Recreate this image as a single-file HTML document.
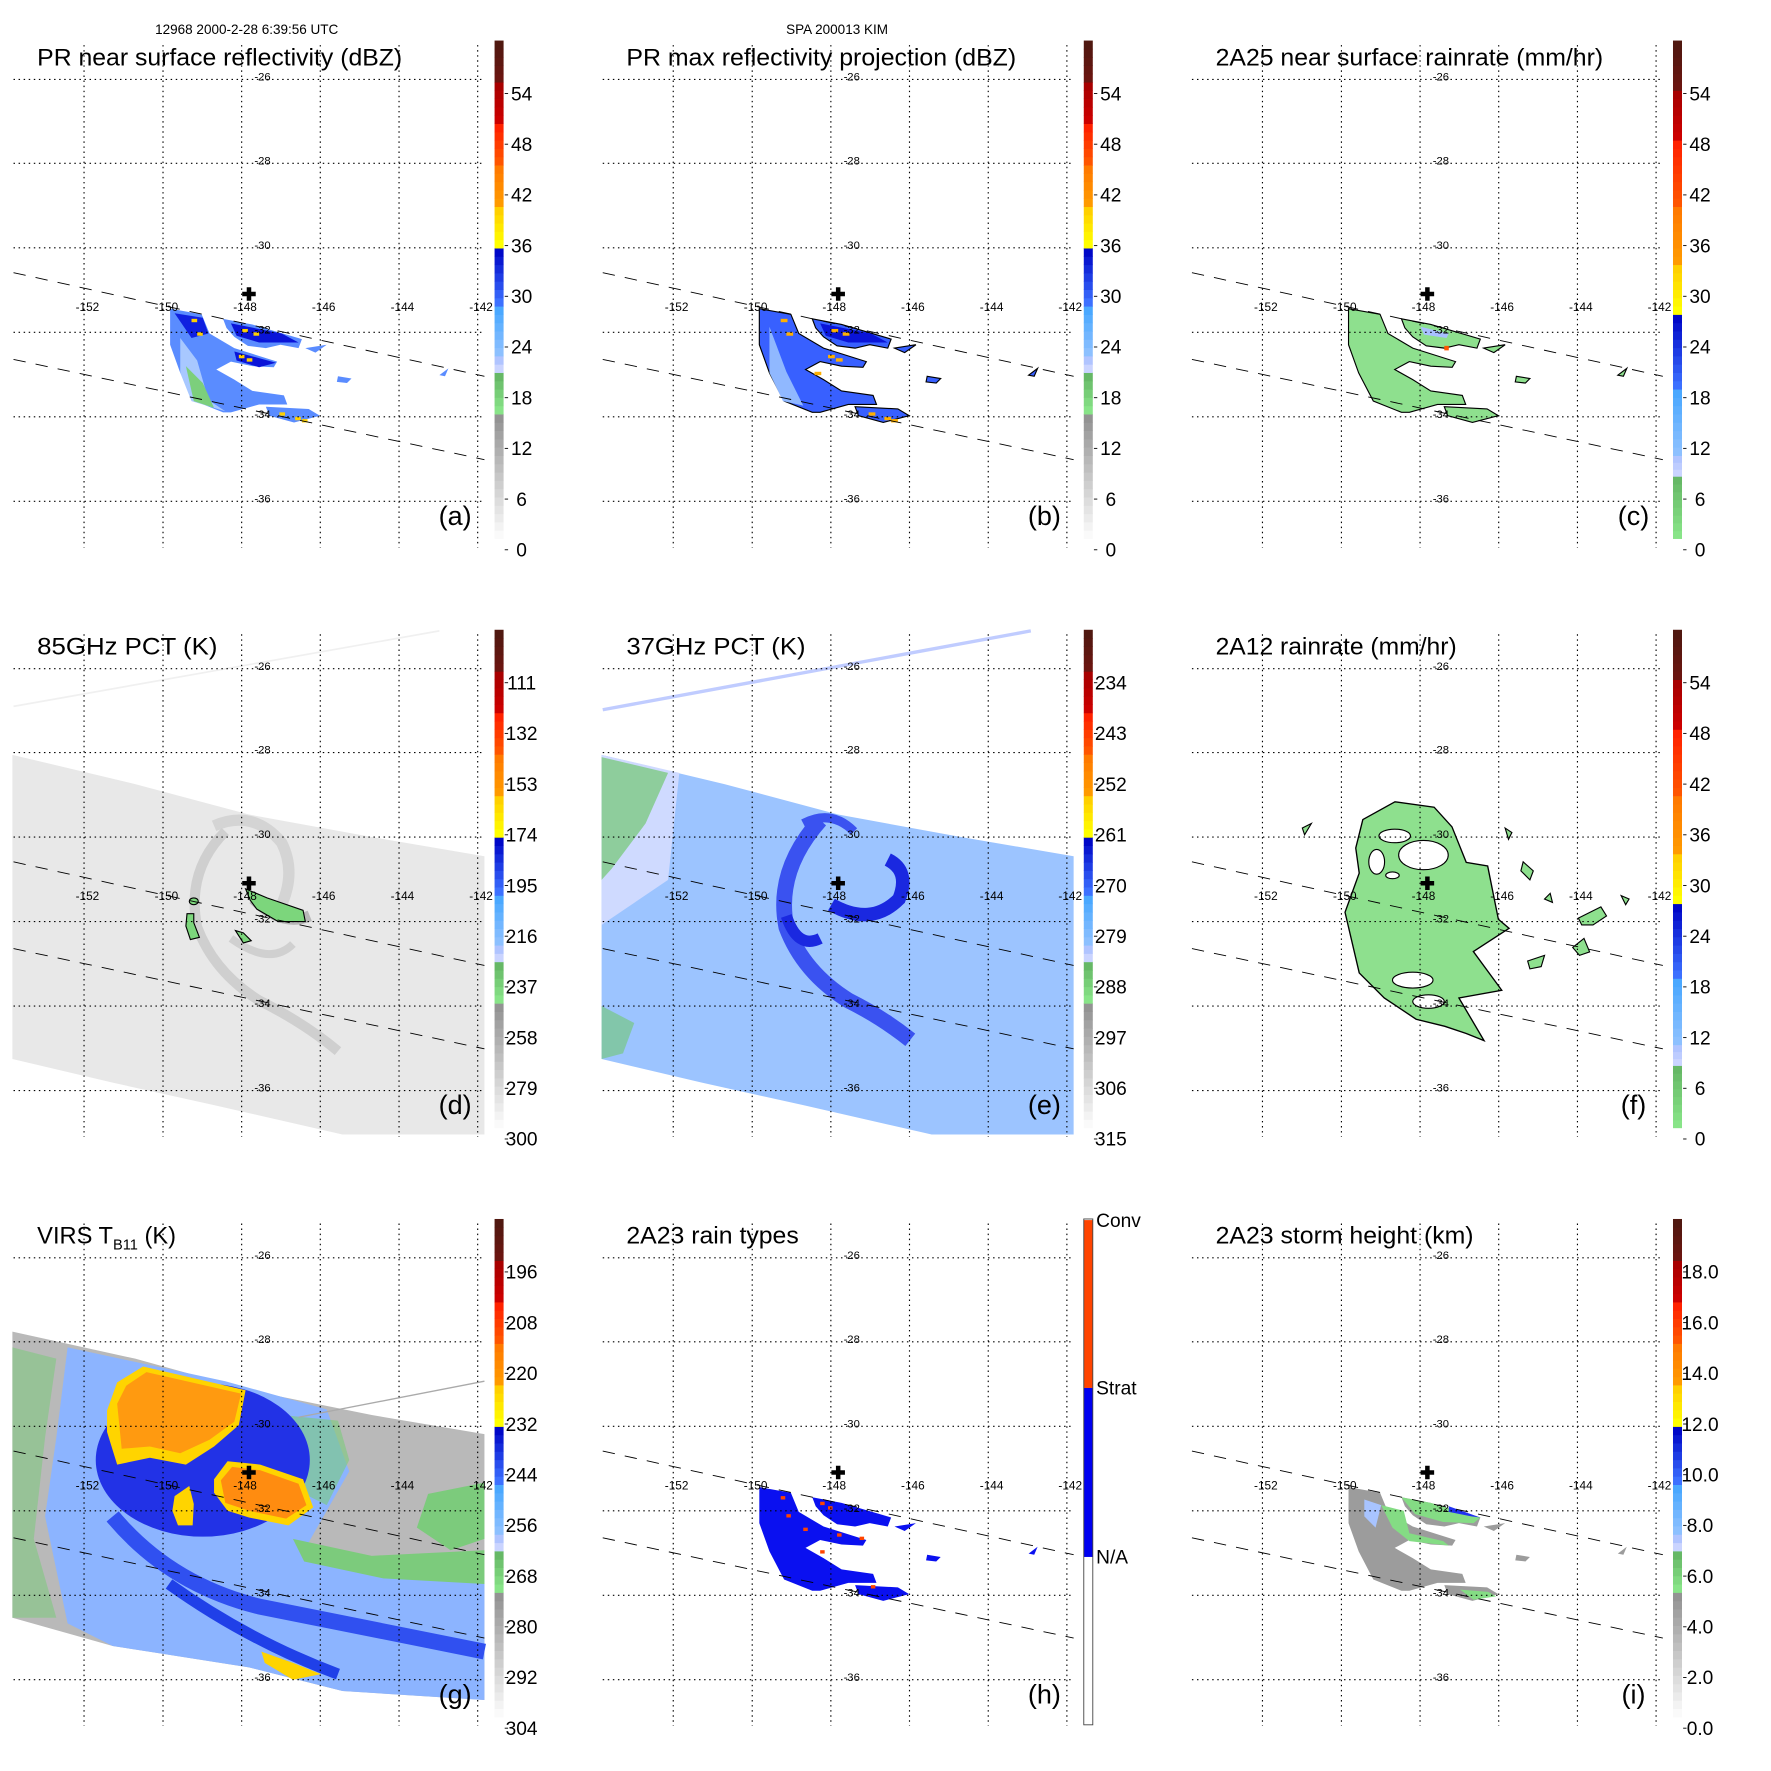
<!DOCTYPE html>
<html><head><meta charset="utf-8"><style>
html,body{margin:0;padding:0;background:#fff;}
svg{display:block;font-family:"Liberation Sans",Arial,sans-serif;}
</style></head><body>
<svg id="s" width="1771" height="1771" viewBox="0 0 1572 1572" xmlns="http://www.w3.org/2000/svg">
<rect width="1572" height="1572" fill="#fff"/>
<text x="219" y="30" font-size="12" text-anchor="middle">12968 2000-2-28 6:39:56 UTC</text>
<text x="743" y="30" font-size="12" text-anchor="middle">SPA 200013 KIM</text>
<g id="root"></g>
</svg>
<script>
const NS="http://www.w3.org/2000/svg";
const root=document.getElementById('root');
function el(tag,attrs,parent,txt){const e=document.createElementNS(NS,tag);for(const k in attrs)e.setAttribute(k,attrs[k]);if(txt!==undefined)e.textContent=txt;(parent||root).appendChild(e);return e;}
function P(pts){return pts.map(p=>p.join(',')).join(' ');}
function hex(c){return [parseInt(c.substr(1,2),16),parseInt(c.substr(3,2),16),parseInt(c.substr(5,2),16)];}
function mix(a,b,t){a=hex(a);b=hex(b);return 'rgb('+a.map((v,i)=>Math.round(v+(b[i]-v)*t)).join(',')+')';}

const SA=[[0,15,'#fafafa','#939393'],[15,20,'#88e488','#66b866'],[20,22,'#cad4ff','#b0c4ff'],[22,28,'#8cc0ff','#4aa8ff'],[28,35,'#3c70ff','#0008c8'],[35,40,'#ffff00','#ffd000'],[40,45,'#ff9a00','#ff7a00'],[45,50,'#ff5500','#ff2200'],[50,55,'#cc0000','#a80000'],[55,60,'#6a1510','#501810']];
const SC=[[0,7.5,'#88e488','#66b866'],[7.5,10,'#cad4ff','#b0c4ff'],[10,18,'#8cc0ff','#4aa8ff'],[18,27,'#3c70ff','#0008c8'],[27,33,'#ffff00','#ffd000'],[33,40,'#ff9a00','#ff7a00'],[40,48,'#ff5500','#ff2200'],[48,54,'#cc0000','#a80000'],[54,60,'#6a1510','#501810']];

function colorbar(g,segs){
  const top=36,bot=478,H=bot-top;
  segs.forEach(s=>{
    const n=Math.max(1,Math.round((s[1]-s[0])));
    for(let i=0;i<n;i++){
      const v0=s[0]+(s[1]-s[0])*i/n,v1=s[0]+(s[1]-s[0])*(i+1)/n;
      const y1=bot-v1/60*H,y0=bot-v0/60*H;
      el('rect',{x:439,y:y1,width:8,height:y0-y1+0.4,fill:mix(s[2],s[3],n>1?i/(n-1):0)},g);
    }
  });
}
function cblabels(g,labs){
  labs.forEach((t,i)=>{const y=83+i*45;el('text',{x:463,y:y+6,'font-size':17,'text-anchor':'middle'},g,t);
    el('line',{x1:448,x2:451,y1:y,y2:y,stroke:'#000','stroke-width':0.8},g);});
}
const GX=[74.6,144.7,214.5,284.3,354.2,424],GY=[70.5,145,220,295,370,445];
function grid(g){
  GX.forEach(x=>el('line',{x1:x,x2:x,y1:40,y2:486,stroke:'#000','stroke-width':1,'stroke-dasharray':'1.3,3.2'},g));
  GY.forEach(y=>el('line',{x1:12,x2:430,y1:y,y2:y,stroke:'#000','stroke-width':1,'stroke-dasharray':'1.3,3.2'},g));
  ['-26','-28','-30','-32','-34','-36'].forEach((t,i)=>el('text',{x:233,y:GY[i]+1,'font-size':10,'text-anchor':'middle'},g,t));
  ['-152','-150','-148','-146','-144','-142'].forEach((t,i)=>el('text',{x:GX[i]+3,y:276,'font-size':10.5,'text-anchor':'middle'},g,t));
  el('line',{x1:12,y1:242,x2:430,y2:334,stroke:'#000','stroke-width':0.8,'stroke-dasharray':'11,9'},g);
  el('line',{x1:12,y1:319,x2:430,y2:408,stroke:'#000','stroke-width':0.8,'stroke-dasharray':'11,9'},g);
  el('path',{d:'M221,255v12M215,261h12',stroke:'#000','stroke-width':4},g);
}
function title(g,t,x2){el('text',{x:33,y:58,'font-size':21,textLength:x2-33,lengthAdjust:'spacingAndGlyphs'},g,t);}
function letter(g,t){el('text',{x:404,y:466,'font-size':24,'text-anchor':'middle'},g,t);}

const LEFT=[[151,274],[179,279],[186,296],[208,309],[246,321],[243,326],[224,325],[205,321],[192,328],[208,337],[224,347],[252,351],[255,359],[230,359],[205,366],[198,366],[173,356],[160,331],[151,306]];
const B1=[[198,283],[224,288],[268,301],[265,309],[249,306],[236,309],[220,307],[208,299],[201,291]];
const B3=[[236,361],[274,363],[284,369],[261,375],[239,369]];
const SM=[[[271,309],[290,306],[280,313]],[[300,334],[312,336],[308,340],[299,339]],[[390,333],[398,327],[395,334]]];
function prShapes(g,fill,stroke){
  [LEFT,B1,B3].concat(SM).forEach(p=>el('polygon',{points:P(p),fill:fill,stroke:stroke||'none','stroke-width':1},g));
}

const panels=[
 {c:0,r:0,t:'PR near surface reflectivity (dBZ)',x2:357,L:'(a)',segs:SA,labs:['54','48','42','36','30','24','18','12','6','0']},
 {c:1,r:0,t:'PR max reflectivity projection (dBZ)',x2:379,L:'(b)',segs:SA,labs:['54','48','42','36','30','24','18','12','6','0']},
 {c:2,r:0,t:'2A25 near surface rainrate (mm/hr)',x2:377,L:'(c)',segs:SC,labs:['54','48','42','36','30','24','18','12','6','0']},
 {c:0,r:1,t:'85GHz PCT (K)',x2:193,L:'(d)',segs:SA,labs:['111','132','153','174','195','216','237','258','279','300']},
 {c:1,r:1,t:'37GHz PCT (K)',x2:192,L:'(e)',segs:SA,labs:['234','243','252','261','270','279','288','297','306','315']},
 {c:2,r:1,t:'2A12 rainrate (mm/hr)',x2:247,L:'(f)',segs:SC,labs:['54','48','42','36','30','24','18','12','6','0']},
 {c:0,r:2,t:'VIRS T',x2:0,L:'(g)',segs:SA,labs:['196','208','220','232','244','256','268','280','292','304']},
 {c:1,r:2,t:'2A23 rain types',x2:186,L:'(h)',segs:null},
 {c:2,r:2,t:'2A23 storm height (km)',x2:262,L:'(i)',segs:SA,labs:['18.0','16.0','14.0','12.0','10.0','8.0','6.0','4.0','2.0','0.0']},
];
const SW=[[11,147],[120,173],[221,200],[330,220],[430,237],[430,484],[304,484],[190,458],[100,438],[11,417]];
panels.forEach(p=>{
  const g=el('g',{transform:`translate(${p.c*523},${p.r*523})`});
  const dg=el('g',{},g);
  const id=p.L[1];
  if(id=='a'){
    prShapes(dg,'#5a8cff');
    el('polygon',{points:P([[160,300],[175,320],[185,355],[200,365],[170,356],[160,331]]),fill:'#a8c8ff'},dg);
    el('polygon',{points:P([[165,325],[180,340],[190,362],[172,356]]),fill:'#7ccf7c'},dg);
    el('polygon',{points:P([[155,278],[180,282],[185,296],[170,300]]),fill:'#1020e0'},dg);
    el('polygon',{points:P([[205,287],[250,296],[265,304],[230,304],[210,298]]),fill:'#0a14d8'},dg);
    el('polygon',{points:P([[208,312],[245,322],[230,326],[210,320]]),fill:'#0a14d8'},dg);
    [[215,292],[225,295],[170,283],[175,295],[212,315],[219,318],[262,370],[268,372],[248,366]].forEach(q=>el('rect',{x:q[0],y:q[1],width:5,height:3,fill:'#ffd000'},dg));
  }
  if(id=='b'){
    prShapes(dg,'#3860ff','#000');
    el('polygon',{points:P([[160,290],[175,330],[190,360],[172,356],[160,331]]),fill:'#90b8ff'},dg);
    el('polygon',{points:P([[205,287],[250,296],[265,304],[230,304],[210,298]]),fill:'#0a14d8'},dg);
    [[215,292],[225,295],[170,283],[175,295],[212,315],[219,318],[262,370],[268,372],[248,366],[200,330]].forEach(q=>el('rect',{x:q[0],y:q[1],width:6,height:3,fill:'#ffb000'},dg));
  }
  if(id=='c'){
    prShapes(dg,'#8ee08e','#000');
    el('polygon',{points:P([[215,290],[240,296],[238,300],[218,297]]),fill:'#a8c0ff'},dg);
    el('rect',{x:236,y:307,width:4,height:4,fill:'#ff5500'},dg);
  }
  if(id=='d'||id=='e'){
    if(id=='d'){el('line',{x1:12,y1:104,x2:390,y2:37,stroke:'#f0f0f0','stroke-width':1.5},dg);
      el('polygon',{points:P(SW),fill:'#e8e8e8'},dg);
      const sw='#cfcfcf';
      el('path',{d:'M190,210 Q225,195 250,225 Q265,255 245,290',fill:'none',stroke:'#d4d4d4','stroke-width':10},dg);
      el('path',{d:'M200,215 Q165,250 175,300 Q190,340 230,365 Q270,385 300,410',fill:'none',stroke:sw,'stroke-width':9},dg);
      el('path',{d:'M225,275 Q250,300 275,290',fill:'none',stroke:'#b8b8b8','stroke-width':10},dg);
      el('path',{d:'M205,310 Q240,335 260,315',fill:'none',stroke:'#d0d0d0','stroke-width':7},dg);
      el('polygon',{points:P([[218,266],[237,274],[269,285],[271,295],[247,295],[228,284],[222,276]]),fill:'#7cd67c',stroke:'#000','stroke-width':1},dg);
      el('polygon',{points:P([[166,288],[172,288],[172,296],[177,309],[169,311],[165,299]]),fill:'#7cd67c',stroke:'#000','stroke-width':1},dg);
      el('ellipse',{cx:172,cy:277,rx:4,ry:3,fill:'#7cd67c',stroke:'#000'},dg);
      el('polygon',{points:P([[209,303],[216,305],[223,312],[216,314]]),fill:'#7cd67c',stroke:'#000'},dg);
    } else {
      el('line',{x1:12,y1:107,x2:392,y2:37,stroke:'#c0ccff','stroke-width':3},dg);
      el('polygon',{points:P(SW),fill:'#9cc4ff'},dg);
      el('polygon',{points:P([[11,147],[80,163],[70,258],[11,298]]),fill:'#cfdaff'},dg);
      el('polygon',{points:P([[11,149],[70,163],[50,208],[20,248],[11,258]]),fill:'#72c872',opacity:0.7},dg);
      el('polygon',{points:P([[11,370],[40,385],[30,412],[11,417]]),fill:'#72c872',opacity:0.6},dg);
      el('path',{d:'M205,205 Q165,250 175,300 Q190,340 230,365 Q260,380 285,400',fill:'none',stroke:'#3a52f0','stroke-width':14},dg);
      el('path',{d:'M215,280 Q250,300 275,275 Q285,250 265,240',fill:'none',stroke:'#1a28e0','stroke-width':12},dg);
      el('path',{d:'M175,290 Q185,320 205,310',fill:'none',stroke:'#1a28e0','stroke-width':10},dg);
      el('path',{d:'M190,208 Q215,195 235,215',fill:'none',stroke:'#3a52f0','stroke-width':8},dg);
    }
  }
  if(id=='f'){
    el('polygon',{points:P([[163.7,204.5],[192.2,188.7],[227,193.5],[242.8,210.9],[255.5,242.5],[274.5,245.7],[284,293],[293.5,301],[261.8,321.6],[287,356],[249,362.8],[271.3,400.7],[255.5,394.4],[236.5,388],[211,381.7],[182.7,362.8],[160.5,340.6],[147.9,286.8],[160.5,252],[157.4,229.8]]),fill:'#8ee08e',stroke:'#000','stroke-width':1.2},dg);
    [[217.5,236,22,13],[192,219,14,6],[176,242,7,11],[208,347,18,7],[222,366,14,6],[190,254,6,3]].forEach(e=>el('ellipse',{cx:e[0],cy:e[1],rx:e[2],ry:e[3],fill:'#fff',stroke:'#000'},dg));
    [[[355,292],[375,282],[380,290],[368,298],[358,298]],[[310,330],[325,325],[322,335],[312,337]],[[350,318],[360,310],[365,322],[356,325]],[[393,272],[400,275],[397,280]],[[290,212],[296,216],[293,222]],[[306,242],[315,250],[312,258],[304,250]],[[325,275],[330,270],[332,278]],[[110,212],[118,208],[112,218]]].forEach(q=>el('polygon',{points:P(q),fill:'#8ee08e',stroke:'#000'},dg));
  }
  if(id=='g'){
    const gs=[[11,136],[120,160],[221,188],[330,210],[430,227],[430,463],[304,455],[221,434],[100,415],[11,390]];
    el('polygon',{points:P(gs),fill:'#b9b9b9'},dg);
    el('polygon',{points:P([[60,150],[200,180],[290,205],[310,260],[270,330],[340,350],[430,355],[430,463],[304,455],[221,434],[100,415],[60,395],[40,300],[50,230]]),fill:'#8cb4ff'},dg);
    el('polygon',{points:P([[11,150],[50,160],[40,230],[30,320],[50,390],[11,390]]),fill:'#7ccb7c',opacity:0.55},dg);
    el('polygon',{points:P([[260,320],[330,335],[430,330],[430,360],[340,355],[270,340]]),fill:'#7ccb7c'},dg);
    el('polygon',{points:P([[250,210],[300,215],[310,250],[290,290],[270,280]]),fill:'#7ccb7c',opacity:0.6},dg);
    el('polygon',{points:P([[380,280],[430,270],[430,320],[400,330],[370,310]]),fill:'#7ccb7c'},dg);
    el('ellipse',{cx:180,cy:250,rx:95,ry:68,fill:'#2232e6'},dg);
    el('path',{d:'M100,300 Q150,360 230,380 Q330,400 430,420',fill:'none',stroke:'#3050f0','stroke-width':14},dg);
    el('path',{d:'M150,360 Q220,410 300,440',fill:'none',stroke:'#2040e8','stroke-width':10},dg);
    el('polygon',{points:P([[95,206],[104,181],[127,167],[218,188],[212,219],[190,238],[165,254],[133,248],[104,254],[95,225]]),fill:'#ffd400'},dg);
    el('polygon',{points:P([[104,200],[112,184],[130,172],[214,191],[208,216],[186,232],[160,244],[133,238],[108,240]]),fill:'#ff9a10'},dg);
    el('polygon',{points:P([[190,267],[202,251],[231,254],[269,267],[278,292],[256,308],[221,301],[202,295],[190,279]]),fill:'#ffd400'},dg);
    el('polygon',{points:P([[196,268],[206,256],[231,259],[265,271],[272,290],[254,302],[221,295],[200,288]]),fill:'#ff8c10'},dg);
    el('polygon',{points:P([[155,282],[168,273],[172,289],[171,308],[158,308],[153,295]]),fill:'#ffd400'},dg);
    el('line',{x1:265,y1:212,x2:430,y2:180,stroke:'#aaa','stroke-width':1.2},dg);
    el('polygon',{points:P([[232,420],[260,430],[285,440],[260,445],[235,430]]),fill:'#ffd400'},dg);
  }
  if(id=='h'){
    prShapes(dg,'#0a10f0');
    [[170,282],[175,298],[205,287],[212,291],[220,315],[240,318],[250,361],[190,310],[205,330]].forEach(q=>el('rect',{x:q[0],y:q[1],width:4,height:3,fill:'#ff4400'},dg));
  }
  if(id=='i'){
    prShapes(dg,'#9c9c9c');
    el('polygon',{points:P([[198,283],[224,288],[268,301],[262,306],[235,305],[210,298]]),fill:'#84dc84'},dg);
    el('polygon',{points:P([[240,291],[268,301],[260,300],[240,296]]),fill:'#2030f0'},dg);
    el('polygon',{points:P([[165,285],[180,290],[175,310],[165,300]]),fill:'#a8c4ff'},dg);
    el('polygon',{points:P([[180,290],[200,295],[205,315],[235,322],[240,326],[205,322],[190,310]]),fill:'#84dc84'},dg);
    el('polygon',{points:P([[250,365],[275,367],[282,371],[262,374]]),fill:'#84dc84'},dg);
  }
  grid(g);
  if(p.segs){colorbar(g,p.segs);cblabels(g,p.labs);}
  else{
    el('rect',{x:439,y:37,width:8,height:149,fill:'#ff4400'},g);
    el('rect',{x:439,y:186,width:8,height:150,fill:'#0000f0'},g);
    el('rect',{x:439,y:36,width:8,height:449,fill:'none',stroke:'#444','stroke-width':0.8},g);
    el('text',{x:450,y:43,'font-size':17},g,'Conv');
    el('text',{x:450,y:192,'font-size':17},g,'Strat');
    el('text',{x:450,y:342,'font-size':17},g,'N/A');
  }
  if(id=='g'){
    const t=el('text',{x:33,y:58,'font-size':21},g);
    t.appendChild(document.createTextNode('VIRS T'));
    el('tspan',{'font-size':13,dy:5},t,'B11');
    el('tspan',{dy:-5,'font-size':21},t,' (K)');
  } else title(g,p.t,p.x2);
  letter(g,p.L);
});
</script>
</body></html>
